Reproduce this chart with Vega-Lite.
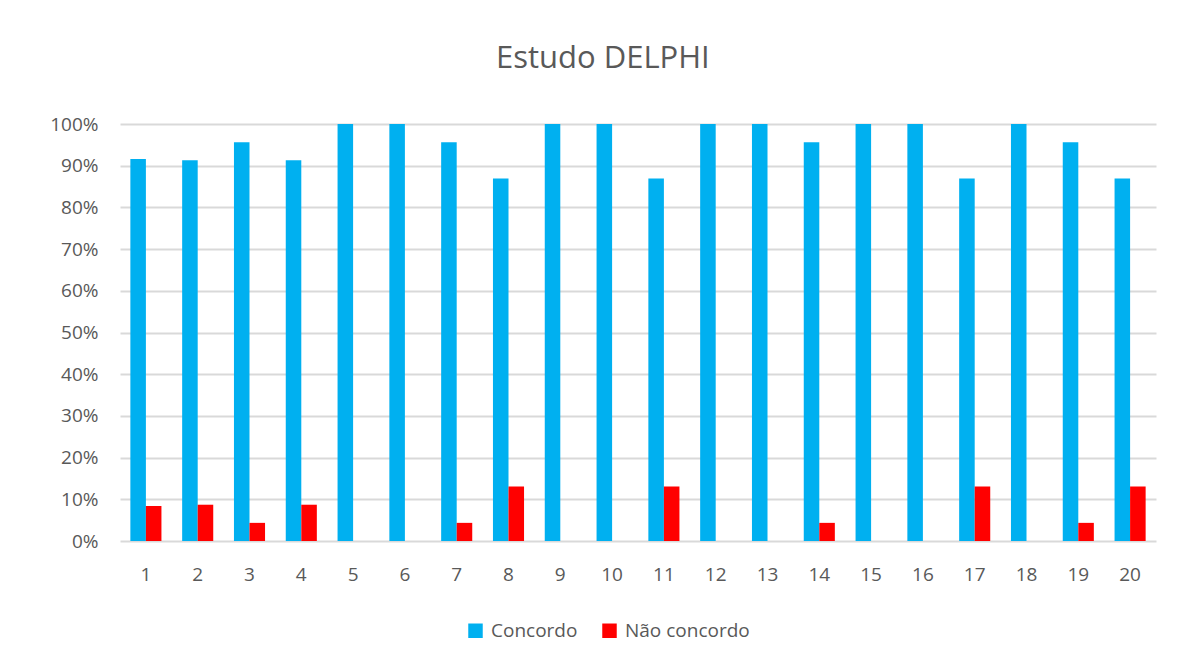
{
  "$schema": "https://vega.github.io/schema/vega-lite/v6.json",
  "autosize": "none",
  "width": 1036,
  "height": 417,
  "padding": {"left": 120, "top": 124, "right": 46, "bottom": 125},
  "background": "white",
  "title": {
    "text": "Estudo DELPHI",
    "fontSize": 31,
    "font": "Open Sans",
    "fontWeight": "normal",
    "color": "#595959",
    "anchor": "middle",
    "frame": "bounds",
    "offset": 40
  },
  "data": {
    "values": [
      {"q": 1, "serie": "Concordo", "v": 0.916},
      {"q": 2, "serie": "Concordo", "v": 0.913},
      {"q": 3, "serie": "Concordo", "v": 0.9565},
      {"q": 4, "serie": "Concordo", "v": 0.913},
      {"q": 5, "serie": "Concordo", "v": 1.0},
      {"q": 6, "serie": "Concordo", "v": 1.0},
      {"q": 7, "serie": "Concordo", "v": 0.9565},
      {"q": 8, "serie": "Concordo", "v": 0.8696},
      {"q": 9, "serie": "Concordo", "v": 1.0},
      {"q": 10, "serie": "Concordo", "v": 1.0},
      {"q": 11, "serie": "Concordo", "v": 0.8696},
      {"q": 12, "serie": "Concordo", "v": 1.0},
      {"q": 13, "serie": "Concordo", "v": 1.0},
      {"q": 14, "serie": "Concordo", "v": 0.9565},
      {"q": 15, "serie": "Concordo", "v": 1.0},
      {"q": 16, "serie": "Concordo", "v": 1.0},
      {"q": 17, "serie": "Concordo", "v": 0.8696},
      {"q": 18, "serie": "Concordo", "v": 1.0},
      {"q": 19, "serie": "Concordo", "v": 0.9565},
      {"q": 20, "serie": "Concordo", "v": 0.8696},
      {"q": 1, "serie": "Não concordo", "v": 0.084},
      {"q": 2, "serie": "Não concordo", "v": 0.087},
      {"q": 3, "serie": "Não concordo", "v": 0.0435},
      {"q": 4, "serie": "Não concordo", "v": 0.087},
      {"q": 5, "serie": "Não concordo", "v": 0.0},
      {"q": 6, "serie": "Não concordo", "v": 0.0},
      {"q": 7, "serie": "Não concordo", "v": 0.0435},
      {"q": 8, "serie": "Não concordo", "v": 0.1304},
      {"q": 9, "serie": "Não concordo", "v": 0.0},
      {"q": 10, "serie": "Não concordo", "v": 0.0},
      {"q": 11, "serie": "Não concordo", "v": 0.1304},
      {"q": 12, "serie": "Não concordo", "v": 0.0},
      {"q": 13, "serie": "Não concordo", "v": 0.0},
      {"q": 14, "serie": "Não concordo", "v": 0.0435},
      {"q": 15, "serie": "Não concordo", "v": 0.0},
      {"q": 16, "serie": "Não concordo", "v": 0.0},
      {"q": 17, "serie": "Não concordo", "v": 0.1304},
      {"q": 18, "serie": "Não concordo", "v": 0.0},
      {"q": 19, "serie": "Não concordo", "v": 0.0435},
      {"q": 20, "serie": "Não concordo", "v": 0.1304}
    ]
  },
  "mark": {"type": "bar"},
  "encoding": {
    "x": {
      "field": "q",
      "type": "ordinal",
      "sort": "ascending",
      "scale": {"paddingInner": 0.4, "paddingOuter": 0.2},
      "axis": {
        "title": null,
        "labelAngle": 0,
        "domain": false,
        "ticks": false,
        "labelPadding": 24,
        "labelFontSize": 19,
        "labelFont": "Open Sans",
        "labelColor": "#595959",
        "grid": false
      }
    },
    "xOffset": {"field": "serie", "type": "nominal", "sort": ["Concordo", "Não concordo"]},
    "y": {
      "field": "v",
      "type": "quantitative",
      "scale": {"domain": [0, 1], "nice": false},
      "axis": {
        "title": null,
        "format": ".0%",
        "values": [0, 0.1, 0.2, 0.3, 0.4, 0.5, 0.6, 0.7, 0.8, 0.9, 1.0],
        "domain": false,
        "ticks": false,
        "labelPadding": 22,
        "labelFontSize": 19,
        "labelFont": "Open Sans",
        "labelColor": "#595959",
        "gridColor": "#D9D9D9",
        "gridWidth": 2
      }
    },
    "color": {
      "field": "serie",
      "type": "nominal",
      "sort": ["Concordo", "Não concordo"],
      "scale": {"domain": ["Concordo", "Não concordo"], "range": ["#00B0F0", "#FF0000"]},
      "legend": {
        "title": null,
        "orient": "none",
        "legendX": 346,
        "legendY": 497,
        "direction": "horizontal",
        "symbolType": "square",
        "symbolSize": 210,
        "symbolStrokeWidth": 0,
        "labelFontSize": 19,
        "labelFont": "Open Sans",
        "labelColor": "#595959",
        "labelOffset": 6,
        "columnPadding": 22
      }
    }
  },
  "config": {"view": {"stroke": null}}
}
